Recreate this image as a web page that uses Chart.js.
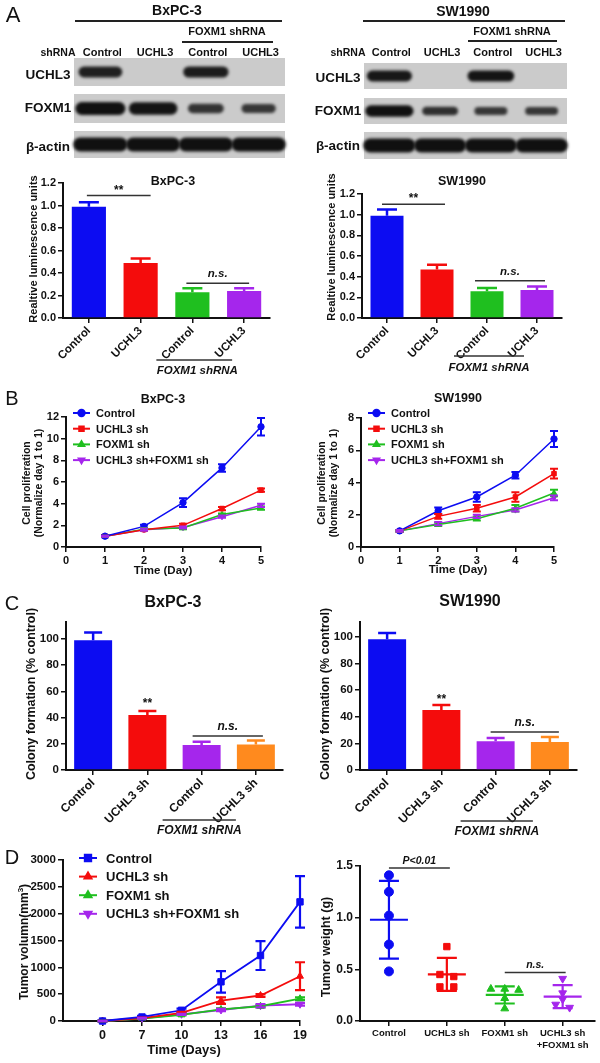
<!DOCTYPE html>
<html>
<head>
<meta charset="utf-8">
<title>UCHL3 / FOXM1</title>
<script src="https://cdn.jsdelivr.net/npm/chart.js@4.4.1/dist/chart.umd.min.js"></script>
<style>
  body { margin: 0; background: #fff; }
  #fig { position: relative; width: 600px; height: 1063px; overflow: hidden; font-family: Arial, "Liberation Sans", sans-serif; color: #111; }
  #fig canvas { position: absolute; }
  .t { position: absolute; font-weight: bold; white-space: nowrap; transform: translate(-50%, -50%); line-height: 1.15; text-align: center; }
  .rule { position: absolute; height: 1.5px; background: #222; }
</style>
</head>
<body>
<div id="fig">
  <canvas id="blots" width="600" height="170" style="left:0;top:0"></canvas>
  <canvas id="lumBx" width="290" height="213" style="left:0;top:172px"></canvas>
  <canvas id="lumSw" width="290" height="213" style="left:300px;top:172px"></canvas>
  <canvas id="proBx" width="300" height="190" style="left:0;top:392px"></canvas>
  <canvas id="proSw" width="300" height="190" style="left:300px;top:392px"></canvas>
  <canvas id="colBx" width="300" height="230" style="left:0;top:610px"></canvas>
  <canvas id="colSw" width="300" height="230" style="left:300px;top:610px"></canvas>
  <canvas id="vol" width="310" height="218" style="left:0;top:845px"></canvas>
  <canvas id="wt" width="300" height="213" style="left:300px;top:850px"></canvas>
</div>
<script>
// ---------- data ----------
// A: western blots (band strength per lane) and luciferase reporter
const blotLanes = ['Control', 'UCHL3', 'Control', 'UCHL3'];
const bxUchl3Band = [0.8, 0, 0.85, 0];
const bxFoxm1Band = [1, 0.95, 0.55, 0.5];
const bxActinBand = [1, 1, 1, 1];
const swUchl3Band = [0.9, 0, 0.95, 0];
const swFoxm1Band = [1, 0.6, 0.5, 0.5];
const swActinBand = [1, 1, 1, 1];

const lumLabels = ['Control', 'UCHL3', 'Control', 'UCHL3'];
const lumBx = [0.99, 0.49, 0.23, 0.24];
const lumBxErr = [0.04, 0.04, 0.035, 0.025];
const lumSw = [0.99, 0.47, 0.26, 0.27];
const lumSwErr = [0.06, 0.045, 0.03, 0.035];

// B: proliferation, normalised to day 1
const days = [1, 2, 3, 4, 5];
const groupNames = ['Control', 'UCHL3 sh', 'FOXM1 sh', 'UCHL3 sh+FOXM1 sh'];
const proBxCtrl = [1, 1.9, 4.1, 7.3, 11.1];
const proBxCtrlErr = [0.1, 0.15, 0.4, 0.35, 0.8];
const proBxUchl3 = [1, 1.6, 2.0, 3.55, 5.25];
const proBxUchl3Err = [0.05, 0.1, 0.15, 0.15, 0.15];
const proBxFoxm1 = [1, 1.65, 1.75, 3.0, 3.6];
const proBxFoxm1Err = [0.05, 0.1, 0.1, 0.1, 0.15];
const proBxBoth = [1, 1.6, 1.8, 2.8, 3.85];
const proBxBothErr = [0.05, 0.1, 0.1, 0.1, 0.15];
const proSwCtrl = [1, 2.25, 3.1, 4.45, 6.7];
const proSwCtrlErr = [0.05, 0.2, 0.3, 0.2, 0.5];
const proSwUchl3 = [1, 1.9, 2.4, 3.1, 4.55];
const proSwUchl3Err = [0.05, 0.15, 0.2, 0.3, 0.3];
const proSwFoxm1 = [1, 1.4, 1.75, 2.4, 3.35];
const proSwFoxm1Err = [0.05, 0.1, 0.1, 0.2, 0.2];
const proSwBoth = [1, 1.45, 1.9, 2.3, 3.05];
const proSwBothErr = [0.05, 0.1, 0.1, 0.1, 0.15];

// C: colony formation
const colLabels = ['Control', 'UCHL3 sh', 'Control', 'UCHL3 sh'];
const colBx = [99, 42, 19, 19.5];
const colBxErr = [6, 3, 2.5, 3];
const colSw = [98, 45, 21.5, 21];
const colSwErr = [4.7, 3.8, 2.5, 3.7];

// D: xenografts
const dayLabels = ['0', '7', '10', '13', '16', '19'];
const volCtrl = [0, 75, 200, 730, 1220, 2220];
const volCtrlErr = [10, 20, 30, 200, 270, 480];
const volUchl3 = [0, 55, 150, 380, 475, 835];
const volUchl3Err = [5, 10, 20, 60, 25, 260];
const volFoxm1 = [0, 45, 115, 215, 275, 415];
const volFoxm1Err = [5, 8, 10, 20, 20, 25];
const volBoth = [0, 50, 125, 205, 285, 312];
const volBothErr = [5, 8, 10, 20, 30, 25];

const weightGroups = ['Control', 'UCHL3 sh', 'FOXM1 sh', ['UCHL3 sh', '+FOXM1 sh']];
const wtCtrl = [1.41, 1.25, 1.02, 0.74, 0.48];
const wtUchl3 = [0.72, 0.45, 0.43, 0.33, 0.33];
const wtFoxm1 = [0.31, 0.31, 0.30, 0.22, 0.12];
const wtBoth = [0.41, 0.27, 0.21, 0.16, 0.13];

// ---------- look ----------
const FONT = 'Arial, "Liberation Sans", sans-serif';
const INK = '#111';
const BLUE = '#0c0cf2', RED = '#f40c0c', GREEN = '#1fbf1f', PURPLE = '#a526ec', ORANGE = '#ff8a1e';

Chart.defaults.font.family = FONT;
Chart.defaults.color = INK;
Chart.defaults.animation = false;
Chart.defaults.plugins.legend.display = false;
Chart.defaults.plugins.tooltip.enabled = false;

const fig = document.getElementById('fig');
function txt(html, x, y, size, extra) {
  const d = document.createElement('div');
  d.className = 't';
  d.innerHTML = html;
  d.style.left = x + 'px';
  d.style.top = y + 'px';
  d.style.fontSize = size + 'px';
  if (extra) Object.assign(d.style, extra);
  fig.appendChild(d);
}
function rule(x0, x1, y) {
  const d = document.createElement('div');
  d.className = 'rule';
  d.style.left = x0 + 'px';
  d.style.width = (x1 - x0) + 'px';
  d.style.top = y + 'px';
  fig.appendChild(d);
}
const vert = { transform: 'translate(-50%, -50%) rotate(-90deg)' };

// ---------- blots ----------
function drawBlot(ctx, x, y, w, h, bands, joined) {
  ctx.fillStyle = '#cbcbcb';
  ctx.fillRect(x, y, w, h);
  const lw = w / bands.length;
  ctx.save();
  ctx.filter = 'blur(1.6px)';
  bands.forEach((s, i) => {
    if (!s) return;
    const cx = x + lw * (i + 0.5);
    const bw = joined ? lw * 1.03 : lw * (0.35 + 0.6 * s);
    const bh = h * (joined ? 0.52 : 0.18 + 0.26 * s);
    ctx.fillStyle = 'rgba(16,16,16,' + (0.6 + 0.4 * s) + ')';
    ctx.beginPath();
    ctx.roundRect(cx - bw / 2, y + h / 2 - bh / 2, bw, bh, bh / 2);
    ctx.fill();
  });
  ctx.restore();
}

function blotPanel(ctx, x, w, rows, sets, labelX, rowLabelY, headY) {
  const lw = w / blotLanes.length;
  rows.forEach((r, i) => drawBlot(ctx, x, r[0], w, r[1] - r[0], sets[i], i === 2));
  txt('shRNA', x - 16, headY, 10.5);
  blotLanes.forEach((l, i) => txt(l, x + lw * (i + 0.5) + 2, headY, 11));
  ['UCHL3', 'FOXM1', '&beta;-actin'].forEach((l, i) => txt(l, labelX, rowLabelY[i], 13.5));
}

const bctx = document.getElementById('blots').getContext('2d');
txt('A', 13, 15, 22, { fontWeight: 'normal' });
txt('BxPC-3', 177, 10, 14);
rule(75, 282, 20);
txt('FOXM1 shRNA', 227, 31, 11);
rule(182, 273, 41);
blotPanel(bctx, 74, 211, [[58, 86], [94, 123], [131, 158]],
  [bxUchl3Band, bxFoxm1Band, bxActinBand], 48, [75, 108, 147], 52);

txt('SW1990', 463, 11, 14);
rule(363, 565, 20);
txt('FOXM1 shRNA', 512, 31, 11);
rule(468, 557, 40);
blotPanel(bctx, 364, 203, [[63, 89], [98, 124], [132, 159]],
  [swUchl3Band, swFoxm1Band, swActinBand], 338, [78, 111, 146], 52);

// ---------- plugins ----------
const errorBars = {
  id: 'errorBars',
  afterDatasetsDraw(chart) {
    const ctx = chart.ctx, ys = chart.scales.y;
    chart.data.datasets.forEach((ds, di) => {
      if (!ds.errors) return;
      const meta = chart.getDatasetMeta(di);
      ctx.save();
      ctx.lineWidth = ds.errWidth || 1.5;
      meta.data.forEach((el, i) => {
        const raw = ds.data[i];
        const v = typeof raw === 'object' ? raw.y : raw;
        const e = ds.errors[i];
        const cw = ds.capWidth || 4;
        ctx.strokeStyle = Array.isArray(ds.borderColor) ? ds.borderColor[i] : ds.borderColor;
        const top = ys.getPixelForValue(v + e);
        const bot = ys.getPixelForValue(ds.errUpOnly ? v : v - e);
        ctx.beginPath();
        ctx.moveTo(el.x, top); ctx.lineTo(el.x, bot);
        ctx.moveTo(el.x - cw, top); ctx.lineTo(el.x + cw, top);
        if (!ds.errUpOnly) { ctx.moveTo(el.x - cw, bot); ctx.lineTo(el.x + cw, bot); }
        ctx.stroke();
      });
      ctx.restore();
    });
  }
};

// significance lines and the "FOXM1 shRNA" group bracket under the axis
const notes = {
  id: 'notes',
  afterDraw(chart, args, opts) {
    const ctx = chart.ctx, xs = chart.scales.x, ys = chart.scales.y;
    (opts.items || []).forEach(it => {
      const x0 = xs.getPixelForValue(it.a) + (it.dxa || 0);
      const x1 = xs.getPixelForValue(it.b) + (it.dxb || 0);
      const y = it.below != null ? ys.bottom + it.below : ys.getPixelForValue(it.v);
      ctx.save();
      if (!it.noLine) {
        ctx.strokeStyle = '#333';
        ctx.lineWidth = 1.5;
        ctx.beginPath(); ctx.moveTo(x0, y); ctx.lineTo(x1, y); ctx.stroke();
      }
      ctx.fillStyle = INK;
      ctx.font = it.font + ' ' + FONT;
      ctx.textAlign = 'center';
      ctx.textBaseline = 'middle';
      ctx.fillText(it.text, (x0 + x1) / 2 + (it.tdx || 0), y + (it.tdy || 0));
      ctx.restore();
    });
  }
};

const lineLegend = {
  id: 'lineLegend',
  afterDraw(chart, args, o) {
    if (!o || o.x == null) return;
    const ctx = chart.ctx;
    chart.data.datasets.forEach((ds, i) => {
      const y = o.y + i * o.dy;
      ctx.save();
      ctx.strokeStyle = ds.borderColor;
      ctx.lineWidth = 2;
      ctx.beginPath(); ctx.moveTo(o.x, y); ctx.lineTo(o.x + o.len, y); ctx.stroke();
      ctx.fillStyle = ds.borderColor;
      Chart.helpers.drawPoint(ctx, { pointStyle: ds.pointStyle, rotation: ds.pointRotation || 0, radius: ds.pointRadius, borderWidth: 1 }, o.x + o.len / 2, y);
      ctx.fillStyle = INK;
      ctx.font = o.font + ' ' + FONT;
      ctx.textBaseline = 'middle';
      ctx.fillText(ds.label, o.x + o.len + o.gap, y + 1);
      ctx.restore();
    });
  }
};

// mean +/- SD drawn over the dots of the tumour weight plot
const meanSd = {
  id: 'meanSd',
  afterDatasetsDraw(chart) {
    const ctx = chart.ctx, xs = chart.scales.x, ys = chart.scales.y;
    chart.data.datasets.forEach((ds, g) => {
      const vals = ds.data.map(p => p.y);
      const m = vals.reduce((a, b) => a + b, 0) / vals.length;
      const sd = Math.sqrt(vals.reduce((a, b) => a + (b - m) * (b - m), 0) / (vals.length - 1));
      const xc = xs.getPixelForValue(g);
      ctx.save();
      ctx.strokeStyle = ds.borderColor;
      ctx.lineWidth = 2.2;
      ctx.beginPath();
      ctx.moveTo(xc - 19, ys.getPixelForValue(m)); ctx.lineTo(xc + 19, ys.getPixelForValue(m));
      ctx.moveTo(xc, ys.getPixelForValue(m + sd)); ctx.lineTo(xc, ys.getPixelForValue(m - sd));
      ctx.moveTo(xc - 10, ys.getPixelForValue(m + sd)); ctx.lineTo(xc + 10, ys.getPixelForValue(m + sd));
      ctx.moveTo(xc - 10, ys.getPixelForValue(m - sd)); ctx.lineTo(xc + 10, ys.getPixelForValue(m - sd));
      ctx.stroke();
      ctx.restore();
    });
  }
};

// ---------- axis helpers ----------
function yAxis(min, max, step, width, size, fmt, more) {
  return Object.assign({
    min, max,
    ticks: { stepSize: step, font: { size, weight: 'bold' }, color: INK, padding: 2, callback: fmt },
    grid: { drawOnChartArea: false, tickLength: 5, color: INK, lineWidth: 1.5 },
    border: { color: INK, width: 2 },
    afterFit: s => { s.width = width; }
  }, more || {});
}
function catAxis(height, size) {
  return {
    ticks: { font: { size, weight: 'bold' }, color: INK, minRotation: 45, maxRotation: 45, autoSkip: false, padding: 1 },
    grid: { offset: false, drawOnChartArea: false, tickLength: 5, color: INK, lineWidth: 1.5 },
    border: { color: INK, width: 2 },
    afterFit: s => { s.height = height; }
  };
}
// count = number of labelled positions 0..count-1 (null keeps the library's own ticks)
function linAxis(min, max, height, size, fmt, count) {
  return {
    type: 'linear', min, max,
    ticks: { stepSize: 1, font: { size, weight: 'bold' }, color: INK, padding: 2, callback: fmt, maxRotation: 0, autoSkip: false },
    grid: { drawOnChartArea: false, tickLength: 5, color: INK, lineWidth: 1.5 },
    border: { color: INK, width: 2 },
    afterBuildTicks: s => { if (count) s.ticks = Array.from({ length: count }, (_, i) => ({ value: i })); },
    afterFit: s => { s.height = height; }
  };
}
const oneDec = v => v.toFixed(1);
const plain = v => v;

// ---------- A: luciferase bars ----------
const lumColors = [BLUE, RED, GREEN, PURPLE];
function lumChart(id, vals, errs, pad, yw, items) {
  new Chart(id, {
    type: 'bar',
    data: { labels: lumLabels, datasets: [{ data: vals, errors: errs, errUpOnly: true, capWidth: 10, errWidth: 2.5,
      backgroundColor: lumColors, borderColor: lumColors, barPercentage: 0.66, categoryPercentage: 1 }] },
    options: {
      responsive: false, devicePixelRatio: 1,
      layout: { padding: pad },
      scales: { x: catAxis(67, 11.5), y: yAxis(0, 1.2, 0.2, yw, 11, oneDec) },
      plugins: { notes: { items } }
    },
    plugins: [errorBars, notes]
  });
}
lumChart('lumBx', lumBx, lumBxErr, { top: 11, right: 20 }, 63, [
  { a: 0, b: 1, v: 1.09, dxa: -2, dxb: 10, text: '**', tdy: -5, font: 'bold 12px' },
  { a: 2, b: 3, v: 0.31, dxa: -6, dxb: 5, text: 'n.s.', tdy: -9, font: 'italic bold 11.5px' },
  { a: 2, b: 3, below: 42, dxa: -36, dxb: -12, text: 'FOXM1 shRNA', tdy: 11, tdx: 3, font: 'italic bold 11.5px' }
]);
lumChart('lumSw', lumSw, lumSwErr, { top: 22, right: 28 }, 62, [
  { a: 0, b: 1, v: 1.1, dxa: -5, dxb: 8, text: '**', tdy: -6, font: 'bold 12px' },
  { a: 2, b: 3, v: 0.36, dxa: -12, dxb: 8, text: 'n.s.', tdy: -9, font: 'italic bold 11.5px' },
  { a: 2, b: 3, below: 38, dxa: -33, dxb: -13, text: 'FOXM1 shRNA', tdy: 12, font: 'italic bold 11.5px' }
]);
txt('BxPC-3', 173, 181, 12.5);
txt('SW1990', 462, 181, 12.5);
txt('Realtive luminescence units', 33, 249, 11, vert);
txt('Realtive luminescence units', 331, 247, 11, vert);

// ---------- B: proliferation lines ----------
function series(label, vals, errs, color, style, rot, xs) {
  return { label, data: vals.map((v, i) => ({ x: xs[i], y: v })), errors: errs, capWidth: 4, errWidth: 2,
    borderColor: color, backgroundColor: color, borderWidth: 1.5, pointStyle: style, pointRotation: rot,
    pointRadius: 3.2, pointBorderWidth: 1, clip: false };
}
function proChart(id, sets, ymax, pad, yw, legendX) {
  new Chart(id, {
    type: 'line',
    data: { datasets: sets },
    options: {
      responsive: false, devicePixelRatio: 1,
      layout: { padding: pad },
      scales: { x: linAxis(0, 5, 35, 11, plain, null), y: yAxis(0, ymax, 2, yw, 11, plain) },
      plugins: { lineLegend: { x: legendX, y: 21, dy: 15.7, len: 17, gap: 6, font: 'bold 11px' } }
    },
    plugins: [errorBars, lineLegend]
  });
}
proChart('proBx', [
  series(groupNames[0], proBxCtrl, proBxCtrlErr, BLUE, 'circle', 0, days),
  series(groupNames[1], proBxUchl3, proBxUchl3Err, RED, 'rect', 0, days),
  series(groupNames[2], proBxFoxm1, proBxFoxm1Err, GREEN, 'triangle', 0, days),
  series(groupNames[3], proBxBoth, proBxBothErr, PURPLE, 'triangle', 180, days)
], 12, { top: 25, right: 39 }, 66, 73);
proChart('proSw', [
  series(groupNames[0], proSwCtrl, proSwCtrlErr, BLUE, 'circle', 0, days),
  series(groupNames[1], proSwUchl3, proSwUchl3Err, RED, 'rect', 0, days),
  series(groupNames[2], proSwFoxm1, proSwFoxm1Err, GREEN, 'triangle', 0, days),
  series(groupNames[3], proSwBoth, proSwBothErr, PURPLE, 'triangle', 180, days)
], 8, { top: 26, right: 46 }, 61, 68);
txt('B', 12, 398, 20, { fontWeight: 'normal' });
txt('BxPC-3', 163, 399, 12.5);
txt('SW1990', 458, 398, 12.5);
txt('Cell proliferation<br>(Normalize day 1 to 1)', 32, 483, 10.5, vert);
txt('Cell proliferation<br>(Normalize day 1 to 1)', 327, 483, 10.5, vert);
txt('Time (Day)', 163, 571, 11.5);
txt('Time (Day)', 458, 570, 11.5);

// ---------- C: colony formation bars ----------
const colColors = [BLUE, RED, PURPLE, ORANGE];
function colChart(id, vals, errs, ymax, pad, yw, items) {
  new Chart(id, {
    type: 'bar',
    data: { labels: colLabels, datasets: [{ data: vals, errors: errs, errUpOnly: true, capWidth: 9, errWidth: 2.5,
      backgroundColor: colColors, borderColor: colColors, barPercentage: 0.7, categoryPercentage: 1 }] },
    options: {
      responsive: false, devicePixelRatio: 1,
      layout: { padding: pad },
      scales: {
        x: catAxis(70, 12),
        y: yAxis(0, ymax, 20, yw, 11.5, plain, { afterBuildTicks: s => { s.ticks = s.ticks.filter(t => t.value % 20 === 0); } })
      },
      plugins: { notes: { items } }
    },
    plugins: [errorBars, notes]
  });
}
colChart('colBx', colBx, colBxErr, 113, { top: 12, right: 17 }, 66, [
  { a: 1, b: 1, v: 51, noLine: true, text: '**', font: 'bold 12px' },
  { a: 2, b: 3, v: 26, dxa: -9, dxb: 7, text: 'n.s.', tdy: -9, font: 'italic bold 12px' },
  { a: 2, b: 3, below: 50, dxa: -39, dxb: -20, text: 'FOXM1 shRNA', tdy: 11, font: 'italic bold 12px' }
]);
colChart('colSw', colSw, colSwErr, 111, { top: 12, right: 23 }, 60, [
  { a: 1, b: 1, v: 53, noLine: true, text: '**', font: 'bold 12px' },
  { a: 2, b: 3, v: 28.5, dxa: -5, dxb: 9, text: 'n.s.', tdy: -9, font: 'italic bold 12px' },
  { a: 2, b: 3, below: 51, dxa: -35, dxb: -17, text: 'FOXM1 shRNA', tdy: 11, font: 'italic bold 12px' }
]);
txt('C', 12, 603, 20, { fontWeight: 'normal' });
txt('BxPC-3', 173, 602, 16);
txt('SW1990', 470, 601, 16);
txt('Colony formation (% control)', 31, 694, 12.5, vert);
txt('Colony formation (% control)', 325, 694, 12.5, vert);

// ---------- D: tumour volume ----------
const dayIdx = dayLabels.map((d, i) => i);
const volSets = [
  series(groupNames[0], volCtrl, volCtrlErr, BLUE, 'rect', 0, dayIdx),
  series(groupNames[1], volUchl3, volUchl3Err, RED, 'triangle', 0, dayIdx),
  series(groupNames[2], volFoxm1, volFoxm1Err, GREEN, 'triangle', 0, dayIdx),
  series(groupNames[3], volBoth, volBothErr, PURPLE, 'triangle', 180, dayIdx)
];
volSets.forEach((s, i) => { s.pointRadius = i === 0 ? 4.5 : 4; s.capWidth = 5; s.errWidth = 2.2; s.borderWidth = 1.8; });
new Chart('vol', {
  type: 'line',
  data: { datasets: volSets },
  options: {
    responsive: false, devicePixelRatio: 1,
    layout: { padding: { top: 15, right: 10 } },
    scales: {
      x: linAxis(-1, 5, 42, 12.5, v => dayLabels[v], dayLabels.length),
      y: yAxis(0, 3000, 500, 63, 11.5, plain)
    },
    plugins: { lineLegend: { x: 79, y: 13, dy: 18.6, len: 18, gap: 9, font: 'bold 13px' } }
  },
  plugins: [errorBars, lineLegend]
});
txt('D', 12, 857, 20, { fontWeight: 'normal' });
txt('Tumor volumn(mm<sup style="font-size:8px">3</sup>)', 24, 942, 12, vert);
txt('Time (Days)', 184, 1050, 13);

// ---------- D: tumour weight ----------
// dots closer than 0.045 g are fanned out sideways, like the prism scatter
function spread(vals, g) {
  const pts = vals.map(v => ({ x: g, y: v }));
  const order = vals.map((v, i) => i).sort((a, b) => vals[b] - vals[a]);
  let group = [];
  const flush = () => {
    group.forEach((idx, k) => { pts[idx].x = g + (k - (group.length - 1) / 2) * 0.24; });
    group = [];
  };
  order.forEach(idx => {
    if (group.length && vals[group[group.length - 1]] - vals[idx] > 0.045) flush();
    group.push(idx);
  });
  flush();
  return pts;
}
function dots(vals, g, color, style, rot) {
  return { data: spread(vals, g), borderColor: color, backgroundColor: color, pointStyle: style,
    pointRotation: rot, pointRadius: 4.5, pointBorderWidth: 1, clip: false };
}
new Chart('wt', {
  type: 'scatter',
  data: { datasets: [
    dots(wtCtrl, 0, BLUE, 'circle', 0),
    dots(wtUchl3, 1, RED, 'rect', 0),
    dots(wtFoxm1, 2, GREEN, 'triangle', 0),
    dots(wtBoth, 3, PURPLE, 'triangle', 180)
  ] },
  options: {
    responsive: false, devicePixelRatio: 1,
    layout: { padding: { top: 16, right: 3 } },
    scales: {
      x: linAxis(-0.5, 3.55, 42, 9.5, v => weightGroups[v], weightGroups.length),
      y: yAxis(0, 1.5, 0.5, 60, 12, oneDec)
    },
    plugins: { notes: { items: [
      { a: 0, b: 1, v: 1.48, dxb: 3, text: 'P<0.01', tdy: -7, font: 'italic bold 10.5px' },
      { a: 2, b: 3, v: 0.47, dxb: 3, text: 'n.s.', tdy: -7, font: 'italic bold 10.5px' }
    ] } }
  },
  plugins: [meanSd, notes]
});
txt('Tumor weight (g)', 326, 947, 12.5, vert);
</script>
</body>
</html>
